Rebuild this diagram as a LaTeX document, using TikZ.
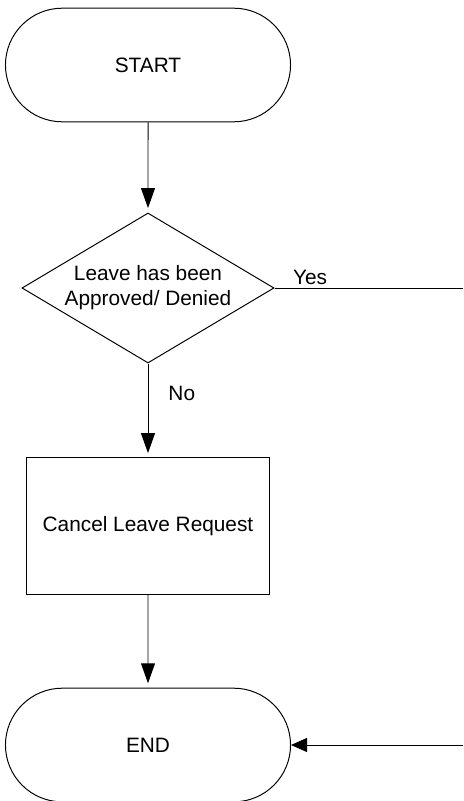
\documentclass[tikz,border=0pt]{standalone}
\usepackage{fontspec}
\setmainfont{Liberation Sans}
\usepackage{tikz}
\usetikzlibrary{positioning, shapes.geometric, shapes.misc, arrows.meta, calc}

\begin{document}
\begin{tikzpicture}[x=0.025cm, y=-0.025cm, line width=0.7pt,
		every node/.style={font=\fontsize{14.8pt}{17.8pt}\selectfont},
		terminal/.style={draw, rounded rectangle, minimum width=7.125cm, minimum height=2.84cm, inner sep=0pt},
		decision/.style={draw, diamond, aspect=1.68, minimum width=6.3cm, minimum height=3.75cm, inner sep=0pt, align=center},
		process/.style={draw, rectangle, minimum width=6.05cm, minimum height=3.4cm},
		flow/.style={-{Triangle[length=0.5cm, width=0.35cm]}, shorten >=0.11cm},
		branch/.style={inner sep=0pt, anchor=base west}]
		\useasboundingbox (0, 0) rectangle (463, 801);
		\node[terminal] (start) at (148, 65) {START};
		\node[decision] (decide) at (148, 288) {Leave has been\\Approved/ Denied};
		\node[process] (cancel) at (148, 526) {Cancel Leave Request};
		\node[terminal] (stop) at (148, 745) {END};
		\coordinate (yesout) at (463, 288);
		\coordinate (yesin) at (463, 745);
		\draw[flow] (start) -- (decide);
		\draw[flow] (decide) -- node[branch, pos=0, xshift=0.5cm, yshift=-0.93cm]{No} (cancel);
		\draw (decide.east) -- node[branch, pos=0, xshift=0.45cm, yshift=0.1cm]{Yes} (yesout);
		\draw[flow] (cancel) -- (stop);
		\draw[-{Triangle[length=0.4cm, width=0.35cm]}] (yesin) -- (stop.east);
	\end{tikzpicture}
\end{document}
